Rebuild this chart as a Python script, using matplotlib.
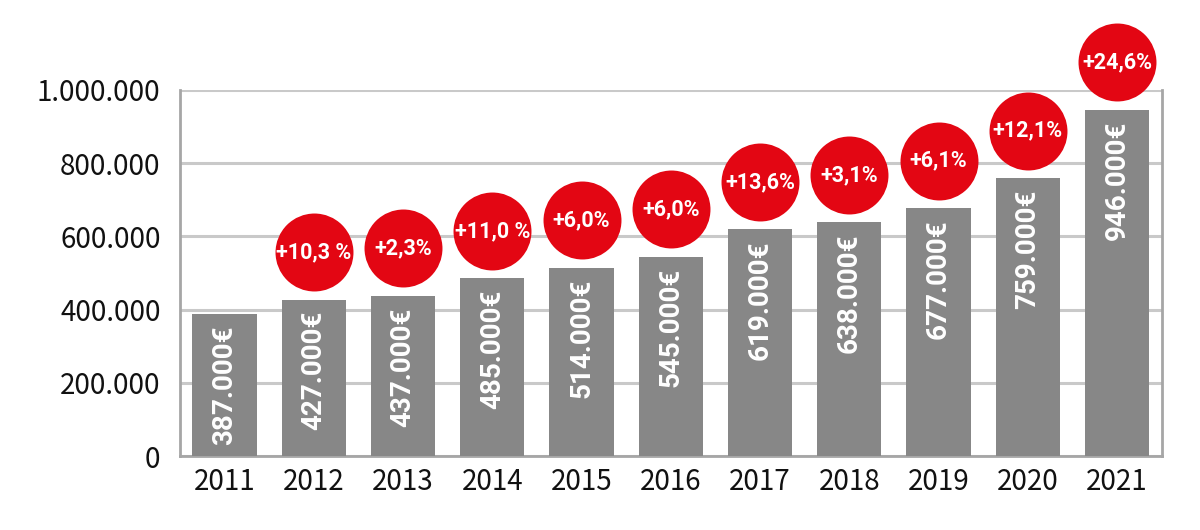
import numpy as np
import matplotlib.pyplot as plt
from matplotlib.ticker import FuncFormatter

# data
years = ['2011', '2012', '2013', '2014', '2015', '2016', '2017', '2018', '2019', '2020', '2021']
revenue = [387000, 427000, 437000, 485000, 514000, 545000, 619000, 638000, 677000, 759000, 946000]
bar_labels = ['387.000€', '427.000€', '437.000€', '485.000€', '514.000€', '545.000€',
              '619.000€', '638.000€', '677.000€', '759.000€', '946.000€']
growth_labels = [None, '+10,3 %', '+2,3%', '+11,0 %', '+6,0%', '+6,0%',
                 '+13,6%', '+3,1%', '+6,1%', '+12,1%', '+24,6%']

BAR_GREY = '#878787'
RED = '#e30613'
GRID = '#c9c9c9'
SPINE = '#a6a6a6'
TICK_FONT = ['Noto Sans CJK JP', 'DejaVu Sans']

fig = plt.figure(figsize=(12, 5.3), dpi=100)
ax = fig.add_axes([0.15, 0.1396, 0.818, 0.6906])

x = np.arange(len(years))
ax.bar(x, revenue, width=0.72, color=BAR_GREY, zorder=3)

# value labels inside bars, anchored at the bar top
for xi, v, lab in zip(x, revenue, bar_labels):
    ax.annotate(lab, (xi, v), xytext=(0, -8), textcoords='offset points',
                rotation=90, ha='center', va='top', color='white',
                fontsize=20, fontweight='bold', family='Roboto', zorder=4)

# growth circles above the bars
for xi, v, g in zip(x, revenue, growth_labels):
    if g is None:
        continue
    cy = v + 130000
    ax.scatter([xi], [cy], s=3150, color=RED, zorder=5, clip_on=False, linewidths=0)
    ax.text(xi, cy, g, ha='center', va='center', color='white', fontsize=15.5,
            fontweight='semibold', family='Roboto', zorder=6, clip_on=False)

ax.set_xlim(-0.5, len(years) - 0.5)
ax.set_ylim(0, 1000000)
ax.set_yticks(np.arange(0, 1000001, 200000))
ax.yaxis.set_major_formatter(FuncFormatter(lambda v, p: f'{int(v):,}'.replace(',', '.')))
ax.set_xticks(x)
ax.set_xticklabels(years)

ax.grid(axis='y', color=GRID, linewidth=2.2, zorder=0)
ax.set_axisbelow(True)
for side in ['left', 'right', 'bottom']:
    ax.spines[side].set_color(SPINE)
    ax.spines[side].set_linewidth(2)
ax.spines['top'].set_visible(False)

ax.tick_params(axis='both', length=0, labelsize=20, colors='#111111')
ax.tick_params(axis='y', pad=14)
ax.tick_params(axis='x', pad=8)
for lab in ax.get_xticklabels() + ax.get_yticklabels():
    lab.set_family(TICK_FONT)

fig.savefig('out.png', dpi=100)
